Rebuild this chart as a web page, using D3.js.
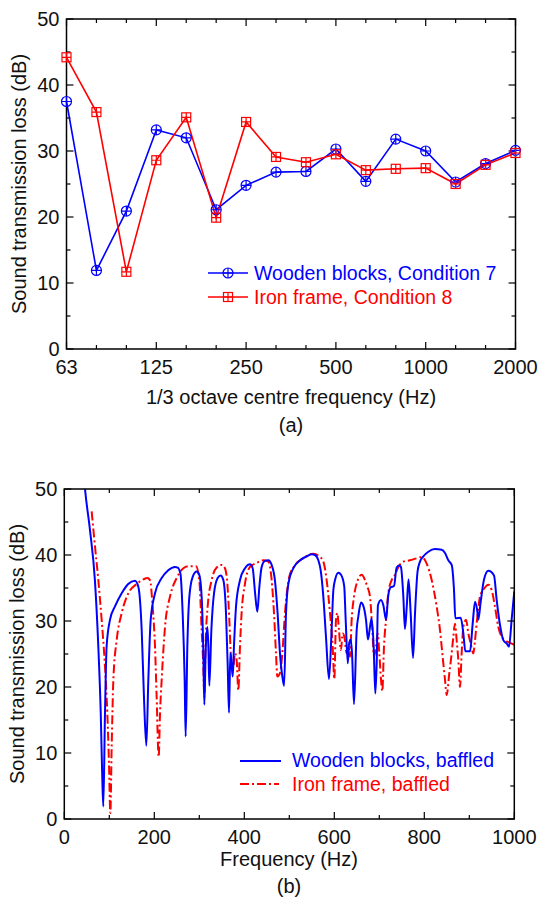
<!DOCTYPE html>
<html>
<head>
<meta charset="utf-8">
<script src="https://cdn.jsdelivr.net/npm/d3@7"></script>
<style>
  html, body { margin: 0; padding: 0; background: #fff; }
  svg { display: block; font-family: "Liberation Sans", Arial, sans-serif; }
</style>
</head>
<body>
<svg id="fig" width="541" height="904"></svg>
<script>
// ── Data: panel (a), 1/3 octave bands ─────────────────────────────────────────
const bands = ['63', '80', '100', '125', '160', '200', '250', '315', '400', '500',
  '630', '800', '1000', '1250', '1600', '2000']
const bandLabels = ['63', '125', '250', '500', '1000', '2000']
const woodCond7 = [37.5, 11.9, 20.9, 33.2, 32.0, 21.1, 24.8, 26.8, 26.9, 30.3,
  25.4, 31.8, 30.0, 25.3, 28.1, 30.1]
const ironCond8 = [44.2, 35.9, 11.7, 28.6, 35.1, 19.9, 34.4, 29.1, 28.3, 29.5,
  27.1, 27.3, 27.4, 25.0, 27.9, 29.7]

// ── Data: panel (b), narrow-band frequency (Hz) / loss (dB) ──────────────────
const woodFreq = [44, 46, 57, 68, 75.6, 81, 84.5, 86.7, 90.4, 94, 101.6, 112.6, 127.5, 142, 157,
  164.5, 172, 177, 182.3, 186.7, 192, 201.6, 216.4, 231, 246, 252, 258, 263, 267.5, 269.7,
  273.4, 277.9, 285.3, 294.2, 300, 305.2, 309, 311.2, 314, 318, 320, 322.3, 326.8, 332.7,
  340.8, 347.5, 353.4, 359.3, 363, 366, 369, 372, 374.3, 377, 381.6, 390.5, 401.6, 412.7,
  418.6, 424, 429, 433.5, 438.6, 446, 453.4, 460.8, 468, 474, 479.3, 484.5, 488.5, 492.7,
  498, 509, 524, 539, 550, 557, 564.5, 569.7, 575.6, 581.5, 588.2, 594, 597.9, 601.6, 609,
  615, 622, 625.3, 630, 632.9, 636.4, 639.4, 643.8, 649.7, 653.4, 659.3, 664.5, 670.4,
  674.9, 679.3, 683, 687.5, 691.2, 694.2, 697, 703.8, 709, 714.9, 720, 725.3, 732.7, 738.6,
  744.5, 748, 753.4, 757, 761, 765, 769.7, 775, 779.4, 785, 790.4, 797.9, 809, 823.8,
  838.6, 846, 853.4, 860.8, 866, 869, 880.9, 886.8, 891.2, 901.6, 907.5, 912.7, 917.9,
  920, 925.3, 932.7, 942.3, 954.9, 960.8, 968.2, 975.6, 983, 988.2, 994.1, 1000]
const woodLoss = [51.5, 50, 43.8, 36.2, 26.1, 16, 5.9, 1.9, 16, 26.1, 30.2, 32.2, 34.2, 35.6, 36.1,
  35.2, 28.6, 18.5, 11.1, 21, 30.2, 34.2, 36.5, 37.7, 38.2, 38.1, 37.2, 31.2, 21, 12.5,
  26.1, 33.7, 36.7, 37.5, 37, 33.7, 25.1, 17.3, 25.1, 29.1, 26.5, 20.2, 28.6, 34.2,
  36.5, 36.9, 36.2, 31.2, 23.6, 16.1, 25.1, 23.1, 21.6, 26.1, 32.2, 36.2, 38, 38.6,
  38, 34.2, 31.4, 35.2, 38.2, 39.1, 39.2, 38.5, 36.2, 31.2, 25.1, 21.6, 20.2, 31.2,
  35.7, 38, 39.2, 39.8, 40.1, 40, 39.2, 37.7, 33.7, 27.6, 21.2, 28.6, 34.7, 36.2, 37.3,
  37, 35.3, 30.2, 23.6, 26.6, 27.2, 25.1, 17.4, 28.6, 30.7, 32.8, 32.3, 30.2,
  27.2, 29.1, 30.4, 26.1, 19, 23.6, 32.4, 33.2, 32.4, 30.2, 33.9, 35.1, 35.3, 38.1,
  38.4, 38.2, 33.7, 28.8, 32.2, 36.3, 31.2, 24.4, 31.2, 37.5, 39, 39.8, 40.5, 40.9,
  40.8, 40.3, 39.2, 38.5, 34.7, 30.4, 30.5, 28.1, 25.4, 25.4, 29.6, 32.9, 31.4,
  30.2, 32.9, 36.3, 37.6, 36.9, 33.2, 29.4, 27.1, 26.6, 26.1, 30.2, 34.5]

const ironFreq = [60.8, 68.2, 75.6, 83, 90.4, 95.6, 99.3, 102.3, 105.3, 109, 116.4, 127.5, 142.3,
  160.8, 175.6, 184.5, 190.4, 196.3, 201.6, 205.2, 209.7, 212.7, 216.4, 223.8, 234.9,
  249.7, 264.5, 275.6, 292.7, 300, 305.2, 309, 311.2, 314.2, 318.6, 327.5, 338.6, 349.7,
  357, 362.3, 366.7, 370.5, 375.6, 379.3, 383, 386.7, 390.4, 394, 401.6, 412.7, 427.5,
  442.3, 453.4, 460.8, 466, 470.4, 473.4, 479.3, 484.5, 490.4, 500, 509, 531, 553.4,
  566.7, 575.6, 583, 590.4, 596.4, 600, 603.8, 606.7, 610.4, 614.8, 618.6, 622.3, 627.5,
  631.9, 634.9, 638.6, 643.8, 651.2, 660.8, 668.2, 673.4, 679.3, 684.5, 688.2, 692.7,
  696.4, 700, 703.8, 706.7, 710.4, 714.9, 720, 727.5, 734.9, 741, 753.4, 768.2, 783, 794,
  805.3, 816.4, 827.5, 834.9, 840.8, 846, 849.7, 855.6, 860.8, 864.5, 868.2, 871.9, 875.6,
  879.3, 883, 886.8, 892.7, 897.9, 903, 909, 912.7, 918, 923.8, 931, 942.3, 949.7, 957,
  964.5, 972, 979.3, 990.4, 1000]
const ironLoss = [46.6, 41.3, 36.2, 30.2, 23.1, 16, 8.4, 0.9, 11, 21.1, 27.1, 31.2, 34.2,
  35.6, 36.3, 36.5, 36.2, 32.2, 26.1, 18.5, 9.4, 16, 21.1, 29.1, 33.7,
  36.5, 38, 38.3, 38.3, 36.2, 28.6, 23.1, 18.5, 27.1, 32.2, 36.2, 38.1, 38.5,
  38, 35.7, 30.2, 24.6, 23.1, 25.1, 24.1, 19.5, 26.1, 31.2, 35.7, 38.2, 38.8,
  39.2, 39, 36.2, 31.2, 25.1, 21.6, 22.1, 25.1, 31.2, 36.7, 38.1, 39.5, 40.2,
  39.8, 39, 36.2, 31.2, 26.1, 21.2, 30.2, 31.2, 28.6, 25.6, 28.1, 27.6, 25.1,
  26.1, 24.6, 30.2, 33.7, 36, 37, 36.2, 35.2, 33.7, 28.6, 24.6, 26.1,
  28.1, 25.1, 21.1, 19.4, 26.1, 30.2, 34.2, 36.2, 37, 38, 39, 39.2, 39.5, 39.7,
  38.7, 36.2, 32.2, 28.6, 24.6, 21.1, 18.8, 22.1, 25.1, 27.6, 29.6, 27.1, 24.1,
  20, 25.1, 29.1, 30.2, 28.1, 26.6, 25.1, 27.1, 30.7, 33.7, 34.7, 35.5, 34.7, 32.2,
  29.1, 27.6, 27.1, 26.7, 26.4]

const lossTicks = d3.range(0, 51, 5)
const BLUE = '#0000ff'
const RED = '#ff0000'

const svg = d3.select('#fig')

// ── Shared frame / ticks helpers ──────────────────────────────────────────────
function frame(g, x0, x1, y0, y1) {
  g.append('rect')
    .attr('x', x0).attr('y', y0)
    .attr('width', x1 - x0).attr('height', y1 - y0)
    .attr('fill', 'none').attr('stroke', '#000').attr('stroke-width', 1.5)
}

function yTicks(g, y, x0, x1) {
  lossTicks.forEach(v => {
    const len = v % 10 === 0 ? 7 : 4
    g.append('line').attr('x1', x0).attr('x2', x0 + len).attr('y1', y(v)).attr('y2', y(v))
    g.append('line').attr('x1', x1).attr('x2', x1 - len).attr('y1', y(v)).attr('y2', y(v))
    if (v % 10 === 0) {
      g.append('text').attr('class', 'tl')
        .attr('x', x0 - 7).attr('y', y(v) + 7)
        .attr('text-anchor', 'end').text(v)
    }
  })
}

function textAt(x, y, str, opts = {}) {
  return svg.append('text')
    .attr('x', x).attr('y', y)
    .attr('text-anchor', opts.anchor || 'middle')
    .attr('font-size', opts.size || 20)
    .attr('fill', opts.fill || '#111')
    .text(str)
}

// ── Panel (a) ─────────────────────────────────────────────────────────────────
const A = { left: 66.5, right: 515.5, top: 19, bottom: 349 }
const xa = d3.scalePoint().domain(bands).range([A.left, A.right])
const ya = d3.scaleLinear().domain([0, 50]).range([A.bottom, A.top])

const ga = svg.append('g').attr('stroke', '#000').attr('stroke-width', 1.2)
  .attr('font-size', 20).attr('fill', '#111')

bands.forEach(b => {
  const len = bandLabels.includes(b) ? 7 : 4
  ga.append('line').attr('x1', xa(b)).attr('x2', xa(b)).attr('y1', A.bottom).attr('y2', A.bottom - len)
  ga.append('line').attr('x1', xa(b)).attr('x2', xa(b)).attr('y1', A.top).attr('y2', A.top + len)
  if (bandLabels.includes(b)) {
    ga.append('text').attr('stroke', 'none')
      .attr('x', xa(b)).attr('y', A.bottom + 25)
      .attr('text-anchor', 'middle').text(b)
  }
})
yTicks(ga, ya, A.left, A.right)
ga.selectAll('text.tl').attr('stroke', 'none')
frame(ga, A.left, A.right, A.top, A.bottom)

const lineA = d3.line().x((d, i) => xa(bands[i])).y(d => ya(d))

function circlePlus(g, x, y, color, r = 5) {
  g.append('circle').attr('cx', x).attr('cy', y).attr('r', r)
    .attr('fill', 'none').attr('stroke', color).attr('stroke-width', 1.2)
  g.append('path').attr('d', `M${x - r},${y}H${x + r}M${x},${y - r}V${y + r}`)
    .attr('stroke', color).attr('stroke-width', 1.2)
}

function squarePlus(g, x, y, color, h = 4.5) {
  g.append('rect').attr('x', x - h).attr('y', y - h).attr('width', 2 * h).attr('height', 2 * h)
    .attr('fill', 'none').attr('stroke', color).attr('stroke-width', 1.2)
  g.append('path').attr('d', `M${x - h},${y}H${x + h}M${x},${y - h}V${y + h}`)
    .attr('stroke', color).attr('stroke-width', 1.2)
}

const seriesA = svg.append('g')
seriesA.append('path').datum(woodCond7).attr('d', lineA)
  .attr('fill', 'none').attr('stroke', BLUE).attr('stroke-width', 1.6)
seriesA.append('path').datum(ironCond8).attr('d', lineA)
  .attr('fill', 'none').attr('stroke', RED).attr('stroke-width', 1.6)
woodCond7.forEach((v, i) => circlePlus(seriesA, xa(bands[i]), ya(v), BLUE))
ironCond8.forEach((v, i) => squarePlus(seriesA, xa(bands[i]), ya(v), RED))

// legend (a)
const legA = svg.append('g')
legA.append('line').attr('x1', 208).attr('x2', 248).attr('y1', 273).attr('y2', 273)
  .attr('stroke', BLUE).attr('stroke-width', 1.6)
circlePlus(legA, 228, 273, BLUE)
legA.append('line').attr('x1', 208).attr('x2', 248).attr('y1', 297).attr('y2', 297)
  .attr('stroke', RED).attr('stroke-width', 1.6)
squarePlus(legA, 228, 297, RED)
textAt(254, 280, 'Wooden blocks, Condition 7', { anchor: 'start', size: 19.5, fill: BLUE })
textAt(254, 304, 'Iron frame, Condition 8', { anchor: 'start', size: 19.5, fill: RED })

textAt(291, 404, '1/3 octave centre frequency (Hz)')
textAt(291, 432, '(a)')
svg.append('text')
  .attr('transform', `translate(26,${(A.top + A.bottom) / 2}) rotate(-90)`)
  .attr('text-anchor', 'middle').attr('font-size', 20).attr('fill', '#111')
  .text('Sound transmission loss (dB)')

// ── Panel (b) ─────────────────────────────────────────────────────────────────
const B = { left: 64.3, right: 514.3, top: 489, bottom: 819 }
const xb = d3.scaleLinear().domain([0, 1000]).range([B.left, B.right])
const yb = d3.scaleLinear().domain([0, 50]).range([B.bottom, B.top])

svg.append('clipPath').attr('id', 'clipB')
  .append('rect').attr('x', B.left).attr('y', B.top)
  .attr('width', B.right - B.left).attr('height', B.bottom - B.top)

const lineB = d3.line().x(d => xb(d[0])).y(d => yb(d[1])).curve(d3.curveMonotoneX)
const woodPts = woodFreq.map((f, i) => [f, woodLoss[i]])
const ironPts = ironFreq.map((f, i) => [f, ironLoss[i]])

const seriesB = svg.append('g').attr('clip-path', 'url(#clipB)')
seriesB.append('path').datum(ironPts).attr('d', lineB)
  .attr('fill', 'none').attr('stroke', RED).attr('stroke-width', 2)
  .attr('stroke-dasharray', '9,3,2,3')
seriesB.append('path').datum(woodPts).attr('d', lineB)
  .attr('fill', 'none').attr('stroke', BLUE).attr('stroke-width', 2)

const gb = svg.append('g').attr('stroke', '#000').attr('stroke-width', 1.2)
  .attr('font-size', 20).attr('fill', '#111')
d3.range(0, 1001, 100).forEach(f => {
  const len = f % 200 === 0 ? 7 : 4
  gb.append('line').attr('x1', xb(f)).attr('x2', xb(f)).attr('y1', B.bottom).attr('y2', B.bottom - len)
  gb.append('line').attr('x1', xb(f)).attr('x2', xb(f)).attr('y1', B.top).attr('y2', B.top + len)
  if (f % 200 === 0) {
    gb.append('text').attr('stroke', 'none')
      .attr('x', xb(f)).attr('y', B.bottom + 25)
      .attr('text-anchor', 'middle').text(f)
  }
})
yTicks(gb, yb, B.left, B.right)
gb.selectAll('text.tl').attr('stroke', 'none')
frame(gb, B.left, B.right, B.top, B.bottom)

// legend (b)
const legB = svg.append('g')
legB.append('line').attr('x1', 240).attr('x2', 281).attr('y1', 761).attr('y2', 761)
  .attr('stroke', BLUE).attr('stroke-width', 2)
legB.append('line').attr('x1', 240).attr('x2', 279).attr('y1', 784).attr('y2', 784)
  .attr('stroke', RED).attr('stroke-width', 2).attr('stroke-dasharray', '9,3,2,3')
textAt(292, 767, 'Wooden blocks, baffled', { anchor: 'start', size: 19.5, fill: BLUE })
textAt(292, 791, 'Iron frame, baffled', { anchor: 'start', size: 19.5, fill: RED })

textAt(289, 866, 'Frequency (Hz)')
textAt(289, 893, '(b)')
svg.append('text')
  .attr('transform', `translate(24,${(B.top + B.bottom) / 2}) rotate(-90)`)
  .attr('text-anchor', 'middle').attr('font-size', 20).attr('fill', '#111')
  .text('Sound transmission loss (dB)')
</script>
</body>
</html>
